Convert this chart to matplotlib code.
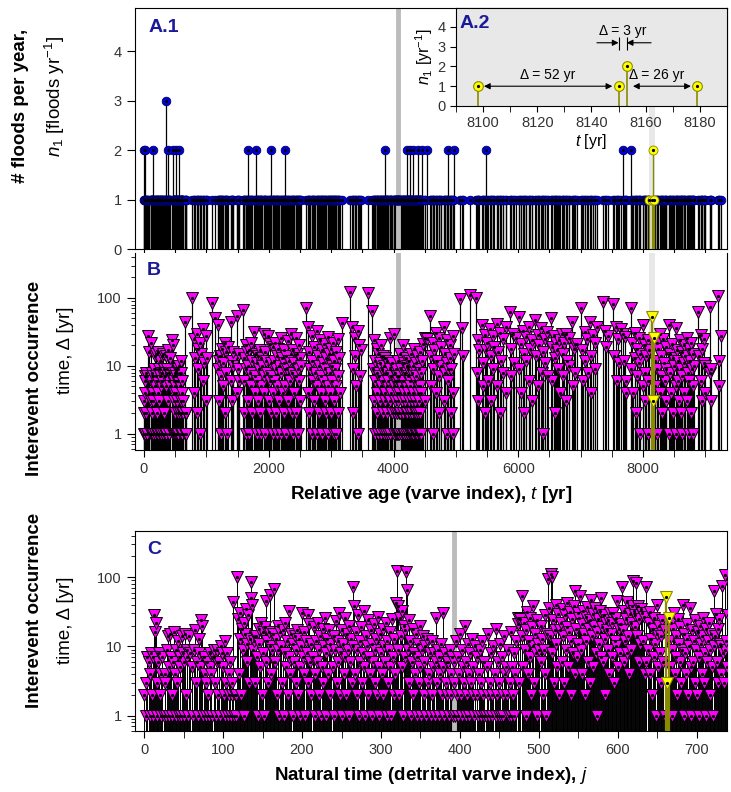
import numpy as np
import matplotlib
matplotlib.use('Agg')
import matplotlib.pyplot as plt
from matplotlib.ticker import MultipleLocator, FuncFormatter, NullFormatter, LogLocator

plt.rcParams['font.family'] = ['Liberation Sans', 'DejaVu Sans']
plt.rcParams['mathtext.fontset'] = 'custom'
plt.rcParams['mathtext.rm'] = 'Liberation Sans'
plt.rcParams['mathtext.it'] = 'Liberation Sans:italic'
plt.rcParams['mathtext.bf'] = 'Liberation Sans:bold'

# interevent times (yr), one per detrital varve j; 0 = same year
delta = [
    2, 0, 3, 1, 7, 0, 6, 4, 1, 8, 2, 7, 1, 28, 16, 22, 3, 1, 6, 8, 2, 4, 1, 7, 0,
    1, 4, 3, 1, 9, 14, 5, 1, 15, 7, 2, 1, 6, 16, 4, 1, 9, 3, 12, 1, 7, 5, 1, 14, 8,
    6, 1, 15, 2, 9, 7, 1, 14, 8, 0, 0, 5, 1, 9, 17, 0, 3, 6, 1, 8, 13, 5, 24, 20, 0,
    1, 7, 4, 1, 3, 6, 2, 1, 5, 8, 4, 1, 0, 7, 9, 3, 1, 6, 9, 2, 6, 1, 10, 0, 8,
    5, 2, 12, 1, 3, 8, 1, 4, 2, 6, 1, 3, 2, 44, 1, 2, 1, 2, 100,
    25, 4, 13, 30, 2, 18, 9, 22, 1, 15, 35, 6, 11, 28, 3, 13, 85, 50,
    40, 9, 12, 3, 14, 14, 7, 1, 18, 11, 5, 22, 2, 16, 8, 1, 19, 45, 6, 12, 3, 16, 10, 55, 4, 9, 15, 6, 67,
    6, 13, 2, 20, 9, 1, 16, 10, 0,
    3, 17, 1, 8, 22, 5, 12, 2, 32, 7, 4, 15, 0,
    11, 1, 6, 14, 3, 9, 17, 2, 13, 5, 1, 10, 30, 7, 4, 16, 1, 12, 8, 28, 3, 21, 6, 11, 2, 0,
    7, 19, 4, 1, 12, 6, 22, 2, 9, 14, 1, 5, 18, 3, 10, 26, 1, 8, 13, 4, 17, 2, 11, 9, 0,
    5, 14, 1, 9, 23, 3, 12, 6, 30, 2, 8, 17, 1, 11, 4, 26, 7, 2, 15, 9, 1, 20, 6, 13, 3, 10, 72, 38,
    4, 16, 2, 9, 28, 1, 12, 6, 19, 3, 8, 33, 5, 1, 14, 10, 2, 24, 7, 4, 17, 1, 11, 6, 21, 3, 9,
    13, 2, 27, 5, 1, 15, 8, 4, 18, 2, 10, 6, 22, 1, 12, 3, 9, 16, 5, 1, 25, 7, 2, 13, 4, 43, 122,
    38, 9, 2, 26, 14, 5, 33, 1, 20, 7, 17, 118, 65,
    9, 24, 3, 12, 1, 6, 18, 2, 8, 4, 15, 1, 7, 11, 3, 20, 5, 1, 9, 14, 2, 6, 10, 1, 13, 3, 0,
    4, 8, 1, 12, 2, 5, 8, 1, 6, 26, 3, 9, 1, 7, 4, 11, 2, 30, 5, 1, 8, 3, 6, 2, 6, 1, 9, 4, 2, 7, 1, 6,
    3, 1, 12, 2, 7, 1, 4, 15, 2, 9, 1, 5, 3, 20, 1, 6, 2, 11, 4, 1, 8, 3, 13, 2, 5, 1, 10, 0,
    2, 7, 1, 4, 9, 1, 3, 12, 2, 1, 6, 0,
    1, 5, 2, 15, 1, 3, 8, 2, 1, 10, 0,
    4, 1, 18, 2, 6, 1, 3, 11, 1, 7, 2, 1, 14, 4, 5, 0,
    2, 9, 1, 3, 16, 1, 5, 2, 8, 1, 4, 12, 0,
    21, 26, 3, 25, 0, 54,
    14, 5, 22, 9, 1, 17, 31, 4, 12, 26, 7, 2, 19, 10, 38, 3, 15, 8, 24, 1, 11, 9, 0,
    6, 20, 13, 2, 9, 28, 4, 1, 15, 0, 95, 36, 14, 110, 100,
    8, 24, 3, 17, 40, 11, 5, 29, 2, 17, 0,
    22, 6, 35, 14, 3, 28, 9, 19, 42, 5, 16, 31, 2, 12, 25, 8, 38, 4, 63,
    18, 7, 30, 11, 26, 53,
    9, 21, 4, 33, 15, 2, 27, 12, 37, 6, 18, 24, 3, 47,
    14, 29, 5, 20, 36, 8, 16, 1, 25, 11, 32, 7, 50,
    19, 6, 28, 13, 2, 22, 17, 9, 24, 4, 30, 15, 7, 22, 30, 3, 12, 26, 10, 45, 5, 18, 21, 8, 21, 72,
    17, 6, 32, 12, 25, 8, 44, 14, 4, 29, 22, 9, 38, 88, 33, 19, 28, 82,
    14, 38, 6, 25, 11, 35, 30, 0, 12, 27, 4, 6, 72, 0,
    9, 22, 4, 31, 13, 2, 18, 7, 26, 11, 1, 15, 40, 5, 20, 8, 3, 14, 24, 6, 1, 1,
    17, 52, 3, 0, 26,
    12, 5, 22, 9, 1, 18, 30, 4, 14, 7, 2, 25, 11, 6, 19, 3, 9, 40, 1, 15, 8, 4, 21, 13, 2,
    10, 36, 5, 1, 17, 6, 12, 3, 24, 9, 2, 16, 7, 1, 20, 11, 4, 14, 26, 3, 8, 18, 1, 6, 12,
    22, 2, 9, 15, 5, 1, 10, 63,
    14, 29, 6, 18, 3, 25, 11, 4, 10, 74, 8, 3, 9, 107, 12, 5, 28,
]

window = (8090, 8190)   # zoomed interval shown in A.2
gray_j = 392            # highlighted varve

delta = np.array(delta)
t = np.cumsum(delta)
j = np.arange(len(delta))
years, counts = np.unique(t, return_counts=True)
gray_t = t[gray_j]

blue = '#0000dd'
mag = '#ff00ff'
yel = '#ffff00'
olive = '#8a8a00'
navy = '#1a1a99'
grey = '#bcbcbc'
band = '#e8e8e8'

fig = plt.figure(figsize=(7.31, 7.92), dpi=100)
axA = fig.add_axes([0.1847, 0.6856, 0.8098, 0.3043])
axB = fig.add_axes([0.1847, 0.4318, 0.8098, 0.2488])
axC = fig.add_axes([0.1847, 0.0770, 0.8098, 0.2525])
axI = fig.add_axes([0.6238, 0.8662, 0.3707, 0.1237])

def dots(ax, x, y, z):
    ax.plot(x, y, 'o', ms=1.3, color='k', zorder=z)

# ---- A.1: floods per year
inw = (years >= window[0]) & (years <= window[1])
axA.axvspan(*window, color=band, lw=0, zorder=0)
axA.vlines(years[~inw], 0, counts[~inw], color='k', lw=0.9, zorder=1)
axA.axvline(gray_t, color=grey, lw=3.5, zorder=2)
axA.plot(years[~inw], counts[~inw], 'o', ms=6.2, mfc=blue, mec='#000066', mew=0.6, zorder=3)
dots(axA, years[~inw], counts[~inw], 4)
axA.vlines(years[inw], 0, counts[inw], color=olive, lw=1.0, zorder=5)
axA.plot(years[inw], counts[inw], 'o', ms=6.5, mfc=yel, mec=olive, mew=0.6, zorder=6)
dots(axA, years[inw], counts[inw], 7)
axA.set_xlim(-144, 9346)
axA.set_ylim(0, 4.87)
axA.set_yticks([0, 1, 2, 3, 4])
axA.xaxis.set_major_locator(MultipleLocator(500))
axA.xaxis.set_major_formatter(NullFormatter())
axA.text(0.022, 0.955, 'A.1', transform=axA.transAxes, fontsize=14, fontweight='bold',
         color=navy, va='top')

# ---- B and C: interevent times
pos = delta > 0
hl = pos & (t - delta >= window[0]) & (t <= window[1])
nm = pos & ~hl

def stems(ax, x, lw):
    ax.vlines(x[nm], 0.4, delta[nm], color='k', lw=lw, zorder=1)
    ax.axvline(x[gray_j], color=grey, lw=3.5, zorder=2)
    ax.plot(x[nm], delta[nm], 'v', ms=8, mfc=mag, mec='k', mew=0.7, zorder=3)
    dots(ax, x[nm], delta[nm], 4)
    ax.vlines(x[hl], 0.4, delta[hl], color=olive, lw=1.6, zorder=5)
    ax.plot(x[hl], delta[hl], 'v', ms=8, mfc=yel, mec=olive, mew=0.8, zorder=6)
    dots(ax, x[hl], delta[hl], 7)
    ax.set_yscale('log')
    ax.yaxis.set_major_locator(LogLocator(base=10, numticks=10))
    ax.yaxis.set_minor_locator(LogLocator(base=10, subs=np.arange(2, 10), numticks=10))
    ax.yaxis.set_major_formatter(FuncFormatter(lambda v, p: '%g' % v))
    ax.yaxis.set_minor_formatter(NullFormatter())

axB.axvspan(*window, color=band, lw=0, zorder=0)
stems(axB, t, 0.85)
axB.set_xlim(-144, 9346)
axB.set_ylim(0.58, 459)
axB.xaxis.set_major_locator(MultipleLocator(2000))
axB.xaxis.set_minor_locator(MultipleLocator(500))
axB.spines['top'].set_visible(False)
axB.text(0.02, 0.955, 'B', transform=axB.transAxes, fontsize=14, fontweight='bold',
         color=navy, va='top')
axB.set_xlabel('Relative age (varve index), $t$ [yr]', fontsize=13.5, fontweight='bold', labelpad=6)

stems(axC, j, 0.7)
axC.set_xlim(-11.4, 738)
axC.set_ylim(0.6, 465)
axC.xaxis.set_major_locator(MultipleLocator(100))
axC.xaxis.set_minor_locator(MultipleLocator(50))
axC.text(0.02, 0.95, 'C', transform=axC.transAxes, fontsize=14, fontweight='bold',
         color=navy, va='top')
axC.set_xlabel('Natural time (detrital varve index), $j$', fontsize=13.5, fontweight='bold', labelpad=6)

for ax in (axA, axB, axC):
    ax.tick_params(which='both', direction='out', labelsize=10.5, labelcolor='#333333')
    ax.tick_params(axis='x', which='both', length=5)
    ax.tick_params(axis='y', which='major', length=6)
    ax.tick_params(axis='y', which='minor', length=3)

# ---- A.2: inset
axI.set_facecolor(band)
iy, ic = years[inw], counts[inw]
axI.vlines(iy, 0, ic, color=olive, lw=1.2, zorder=2)
axI.plot(iy, ic, 'o', ms=7, mfc=yel, mec=olive, mew=0.8, zorder=3)
dots(axI, iy, ic, 4)
axI.set_xlim(*window)
axI.set_ylim(0, 4.96)
axI.set_yticks([0, 1, 2, 3, 4])
axI.xaxis.set_major_locator(MultipleLocator(20))
axI.xaxis.set_minor_locator(MultipleLocator(10))
axI.tick_params(which='both', direction='out', labelsize=10.5, labelcolor='#333333', length=4)
axI.set_xlabel('$t$ [yr]', fontsize=11.5, labelpad=1)
axI.set_ylabel('$n_1$ [yr$^{-1}$]', fontsize=11.5, labelpad=2)
axI.text(0.012, 0.93, 'A.2', transform=axI.transAxes, fontsize=14, fontweight='bold',
         color=navy, va='top')

arr = dict(arrowstyle='<|-|>', color='k', lw=0.8, shrinkA=4.5, shrinkB=4.5, mutation_scale=9)
axI.annotate('', xy=(iy[1], 1), xytext=(iy[0], 1), arrowprops=arr)
axI.annotate('', xy=(iy[3], 1), xytext=(iy[2], 1), arrowprops=arr)
axI.text((iy[0] + iy[1]) / 2, 1.35, 'Δ = %d yr' % (iy[1] - iy[0]), ha='center', fontsize=10)
axI.text((iy[2] + iy[3]) / 2 - 2, 1.35, 'Δ = %d yr' % (iy[3] - iy[2]), ha='center', fontsize=10)
one = dict(arrowstyle='-|>', color='k', lw=0.8, shrinkA=0, shrinkB=0, mutation_scale=9)
axI.annotate('', xy=(iy[1], 3.2), xytext=(iy[1] - 8, 3.2), arrowprops=one)
axI.annotate('', xy=(iy[2], 3.2), xytext=(iy[2] + 9, 3.2), arrowprops=one)
axI.vlines([iy[1], iy[2]], 2.85, 3.5, color='k', lw=0.8)
axI.text((iy[1] + iy[2]) / 2, 3.6, 'Δ = %d yr' % (iy[2] - iy[1]), ha='center', fontsize=10)

# ---- y labels
fig.text(21 / 731, 1 - 106 / 792, '# floods per year,', rotation=90, ha='center', va='center',
         fontsize=13.5, fontweight='bold')
fig.text(55 / 731, 1 - 96 / 792, '$n_1$ [floods yr$^{-1}$]', rotation=90, ha='center', va='center',
         fontsize=13.5)
for yc, yc2 in ((378, 350), (610, 620)):
    fig.text(35 / 731, 1 - yc / 792, 'Interevent occurrence', rotation=90, ha='center', va='center',
             fontsize=13.5, fontweight='bold')
    fig.text(65 / 731, 1 - yc2 / 792, 'time, Δ [yr]', rotation=90, ha='center', va='center',
             fontsize=13.5)

fig.savefig('out.png', dpi=100)
